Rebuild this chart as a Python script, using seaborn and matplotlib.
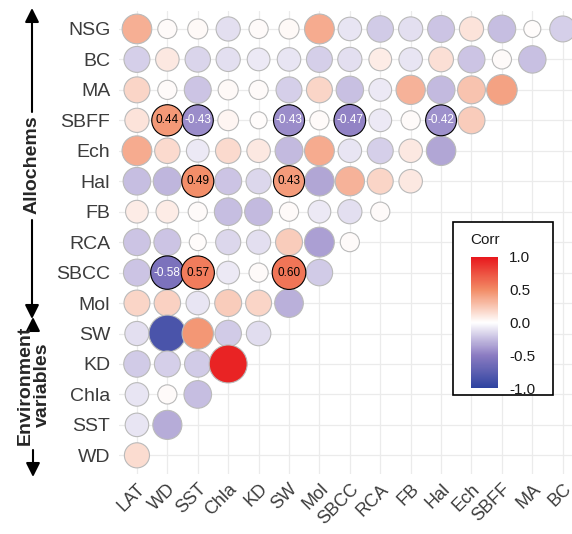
import numpy as np
import pandas as pd
import matplotlib
matplotlib.use("Agg")
import matplotlib.pyplot as plt
import seaborn as sns
from matplotlib.colors import LinearSegmentedColormap, Normalize
from matplotlib.patches import Rectangle, FancyArrowPatch

# row variables (top to bottom) and column variables (left to right)
rows = ["NSG", "BC", "MA", "SBFF", "Ech", "Hal", "FB", "RCA", "SBCC", "Mol",
        "SW", "KD", "Chla", "SST", "WD"]
cols = ["LAT", "WD", "SST", "Chla", "KD", "SW", "Mol", "SBCC", "RCA", "FB",
        "Hal", "Ech", "SBFF", "MA", "BC"]

# lower triangle, one list per row
r_NSG = [0.35, 0.02, 0.03, -0.12, 0.02, 0.03, 0.36, -0.10, -0.20, -0.12, -0.22, 0.12, -0.25, 0.01, -0.18]
r_BC = [-0.18, 0.10, -0.16, -0.12, -0.08, -0.10, -0.18, -0.12, 0.08, -0.10, 0.14, -0.22, 0.02, -0.24]
r_MA = [0.18, 0.02, -0.22, 0.03, 0.02, -0.18, 0.18, -0.24, -0.08, 0.33, -0.26, 0.26, 0.40]
r_SBFF = [0.12, 0.44, -0.43, 0.04, 0.01, -0.43, 0.02, -0.47, -0.08, 0.02, -0.42, 0.22]
r_Ech = [0.36, 0.16, -0.08, 0.16, 0.10, -0.26, 0.36, -0.10, -0.18, 0.10, -0.34]
r_Hal = [-0.25, -0.28, 0.49, -0.22, -0.15, 0.43, -0.34, 0.33, 0.18, 0.10]
r_FB = [0.08, 0.08, 0.02, -0.25, -0.26, 0.02, -0.08, -0.12, 0.02]
r_RCA = [-0.22, -0.22, 0.01, -0.15, -0.12, 0.22, -0.36, 0.02]
r_SBCC = [-0.22, -0.58, 0.57, -0.08, 0.02, 0.60, -0.20]
r_Mol = [0.18, 0.20, -0.10, 0.22, 0.18, -0.30]
r_SW = [-0.12, -0.85, 0.45, -0.20, -0.13]
r_KD = [-0.20, -0.18, -0.20, 0.95]
r_Chla = [-0.10, 0.02, -0.25]
r_SST = [-0.10, -0.32]
r_WD = [0.15]

corr_rows = [r_NSG, r_BC, r_MA, r_SBFF, r_Ech, r_Hal, r_FB, r_RCA, r_SBCC,
             r_Mol, r_SW, r_KD, r_Chla, r_SST, r_WD]

# pairs printed with their value (significant)
labelled = [("SBFF", "WD"), ("SBFF", "SST"), ("SBFF", "SW"), ("SBFF", "SBCC"),
            ("SBFF", "Hal"), ("Hal", "SST"), ("Hal", "SW"),
            ("SBCC", "WD"), ("SBCC", "SST"), ("SBCC", "SW")]

sns.set_style("white")
plt.rcParams["font.family"] = ["Liberation Sans", "DejaVu Sans"]

records = []
for i, rname in enumerate(rows):
    for j, val in enumerate(corr_rows[i]):
        records.append({"row": rname, "col": cols[j], "xi": j, "yi": i, "r": val,
                        "sig": (rname, cols[j]) in labelled})
df = pd.DataFrame(records)

cmap = LinearSegmentedColormap.from_list(
    "corr", [(0, "#2E43A0"), (0.25, "#8C7CC2"), (0.5, "#FFFFFF"),
             (0.75, "#F28C66"), (1, "#E8181D")])
norm = Normalize(-1, 1)

# circle size grows with |r| (diameter ~ sqrt of rescaled |r|)
absr = df["r"].abs()
t = (absr - absr.min()) / (absr.max() - absr.min())
d_px = 17 + 21 * np.sqrt(t)
df["area"] = (d_px * 72 / 100) ** 2
amin, amax = df["area"].min(), df["area"].max()

fig = plt.figure(figsize=(5.72, 5.34), dpi=100)
ax = fig.add_axes([0.2075, 0.1131, 0.8082, 0.8669])

common = dict(x="xi", y="yi", hue="r", palette=cmap, hue_norm=norm,
              size="area", sizes=(amin, amax), size_norm=(amin, amax),
              linewidth=0.8, legend=False, ax=ax)
sns.scatterplot(data=df[~df["sig"]], edgecolor="#BABABA", **common)
sns.scatterplot(data=df[df["sig"]], edgecolor="black", **common)

for _, p in df[df["sig"]].iterrows():
    ax.text(p["xi"], p["yi"], f"{p['r']:.2f}", ha="center", va="center",
            fontsize=8.5, color="black" if p["r"] > 0 else "white")

ax.set_xlim(-0.6, 14.6)
ax.set_ylim(14.6, -0.6)
ax.set_xticks(range(len(cols)))
ax.set_xticklabels(cols, rotation=45, ha="right", va="top", rotation_mode="anchor")
ax.set_yticks(range(len(rows)))
ax.set_yticklabels(rows)
ax.tick_params(length=0, labelcolor="#3C3C3C")
ax.tick_params(axis="x", pad=5, labelsize=13)
ax.tick_params(axis="y", pad=6, labelsize=14)
ax.set_xlabel("")
ax.set_ylabel("")
ax.grid(True, color="#EBEBEB", linewidth=0.9)
ax.set_axisbelow(True)
for s in ax.spines.values():
    s.set_visible(False)

W, H = 572, 534


def fx(x):
    return x / W


def fy(y):
    return 1 - y / H


# legend box with colour bar
box = Rectangle((fx(453), fy(395)), 100 / W, 173 / H, transform=fig.transFigure,
                facecolor="white", edgecolor="black", linewidth=1.2, zorder=2)
fig.add_artist(box)
fig.text(fx(470), fy(240), "Corr", fontsize=11, va="center", ha="left",
         color="#1A1A1A", zorder=4)
cax = fig.add_axes([fx(471), fy(388), 27 / W, 131 / H])
cax.set_zorder(3)
cb = fig.colorbar(matplotlib.cm.ScalarMappable(norm=norm, cmap=cmap), cax=cax)
cb.set_ticks([-1, -0.5, 0, 0.5, 1])
cb.set_ticklabels(["-1.0", "-0.5", "0.0", "0.5", "1.0"])
cb.outline.set_visible(False)
cax.yaxis.set_ticks_position("both")
cax.tick_params(axis="y", direction="in", length=5, width=0.8, color="white",
                labelcolor="#1A1A1A", labelsize=11, labelleft=False,
                labelright=True, pad=8)

# group annotations on the left
fig.text(fx(32), fy(165), "Allochems", rotation=90, ha="center", va="center",
         fontsize=14, fontweight="bold")
fig.text(fx(34), fy(385), "Environment\nvariables", rotation=90, ha="center",
         va="center", fontsize=14, fontweight="bold", linespacing=1.0)

arrows = [((32, 112), (32, 8)), ((32, 220), (32, 319)),
          ((33, 324), (33, 317)), ((33, 450), (33, 477))]
for a, b in arrows:
    fig.add_artist(FancyArrowPatch((fx(a[0]), fy(a[1])), (fx(b[0]), fy(b[1])),
                                   transform=fig.transFigure,
                                   arrowstyle="-|>,head_length=0.6,head_width=0.3",
                                   mutation_scale=14, linewidth=1.5, color="black",
                                   shrinkA=0, shrinkB=0))

fig.savefig("out.png", dpi=100)
